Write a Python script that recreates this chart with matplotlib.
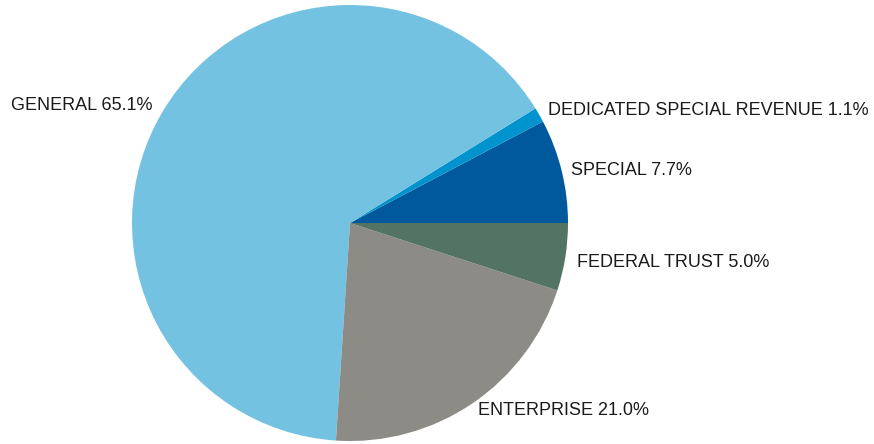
import matplotlib.pyplot as plt

funds = ["SPECIAL", "DEDICATED SPECIAL REVENUE", "GENERAL", "ENTERPRISE", "FEDERAL TRUST"]
shares = [7.7, 1.1, 65.1, 21.0, 5.0]
colors = ["#00599C", "#0093CD", "#74C2E1", "#8D8B85", "#537462"]

# label anchor points in pie units (radius = 1) and alignment
label_pos = [(1.014, 0.243), (0.908, 0.514), (-0.908, 0.537), (0.587, -0.862), (1.041, -0.179)]
label_ha = ["left", "left", "right", "left", "left"]

plt.rcParams['font.family'] = ['Liberation Sans', 'DejaVu Sans']

fig = plt.figure(figsize=(8.74, 4.44), dpi=100)
ax = fig.add_axes([0, 0, 1, 1])

ax.pie(shares, colors=colors, startangle=0, counterclock=True,
       wedgeprops=dict(linewidth=0))

for name, val, (x, y), ha in zip(funds, shares, label_pos, label_ha):
    ax.text(x, y, f"{name} {val:.1f}%", ha=ha, va="center",
            fontsize=13, color="#1a1a1a")

s = 218.0
ax.set_xlim(-350 / s, (874 - 350) / s)
ax.set_ylim((223 - 444) / s, 223 / s)
ax.set_aspect("auto")
ax.axis("off")

fig.savefig("out.png", dpi=100)
